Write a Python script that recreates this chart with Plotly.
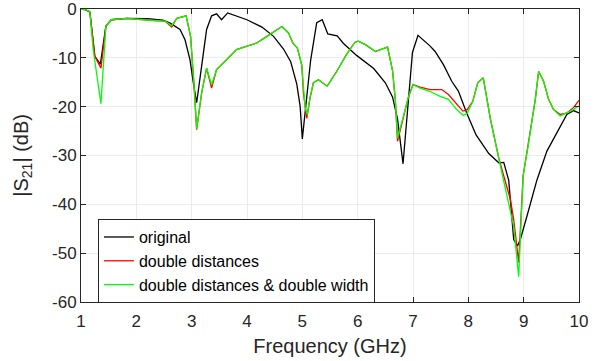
import plotly.graph_objects as go

# original
x_orig = [1.0, 1.07, 1.16, 1.25, 1.35, 1.45, 1.55, 1.83, 2.2, 2.48, 2.61, 2.79, 2.88, 2.97, 3.03, 3.09,
          3.18, 3.27, 3.36, 3.45, 3.54, 3.65, 4.0, 4.27, 4.48, 4.66, 4.79, 4.90, 4.96, 5.0, 5.15, 5.26,
          5.36, 5.46, 5.63, 5.74, 5.98, 6.29, 6.5, 6.63, 6.72, 6.82, 6.99, 7.09, 7.31, 7.40, 7.55, 7.70,
          7.82, 7.97, 8.14, 8.37, 8.55, 8.64, 8.73, 8.82, 8.89, 8.94, 9.06, 9.24, 9.42, 9.6, 9.78, 9.9, 10.0]
y_orig = [0, -0.1, -0.6, -9.7, -11.3, -3.5, -2.2, -1.9, -2.0, -2.3, -2.9, -4.2, -6.3, -10.4, -15.1, -19.2,
          -11.7, -4.2, -1.4, -1.0, -2.2, -0.8, -2.2, -3.7, -5.6, -8.2, -10.8, -15.4, -19.9, -26.6, -10.5, -2.8,
          -2.2, -5.1, -5.5, -7.0, -9.5, -12.2, -15.1, -18.0, -22.5, -31.7, -8.9, -5.4, -7.6, -8.7, -11.4, -14.8,
          -16.8, -21.3, -25.8, -29.6, -31.5, -31.4, -35.1, -47.2, -48.5, -47.2, -42.4, -35.0, -29.1, -25.4, -21.6, -20.8, -21.3]

# double distances
x_dd = [1.0, 1.07, 1.16, 1.25, 1.36, 1.45, 1.55, 1.83, 2.25, 2.52, 2.64, 2.73, 2.90, 2.98, 3.04, 3.09,
        3.18, 3.27, 3.36, 3.45, 3.63, 3.81, 4.0, 4.17, 4.36, 4.63, 4.75, 4.83, 4.91, 4.99, 5.02, 5.08,
        5.14, 5.20, 5.29, 5.45, 5.62, 5.8, 5.95, 6.01, 6.14, 6.32, 6.41, 6.54, 6.63, 6.68, 6.72, 6.83,
        6.92, 7.0, 7.13, 7.31, 7.52, 7.64, 7.79, 7.90, 7.98, 8.08, 8.17, 8.27, 8.40, 8.55, 8.64, 8.76,
        8.82, 8.91, 8.99, 9.09, 9.21, 9.27, 9.36, 9.45, 9.54, 9.66, 9.78, 9.9, 10.0]
y_dd = [0, -0.1, -0.6, -9.7, -12.1, -3.5, -2.2, -1.9, -2.3, -2.5, -3.7, -1.9, -1.4, -5.6, -15.1, -24.7,
        -17.2, -12.1, -16.2, -12.4, -10.4, -8.3, -7.6, -7.0, -5.6, -3.6, -4.9, -7.0, -8.0, -11.5, -17.2, -22.4,
        -18.2, -15.1, -14.5, -15.8, -12.8, -9.3, -6.8, -6.6, -7.3, -8.7, -8.3, -7.8, -12.6, -18.5, -27.1, -22.0,
        -17.9, -15.5, -16.0, -16.5, -16.5, -17.5, -19.6, -20.9, -20.6, -18.9, -15.1, -14.1, -22.6, -30.5, -34.2, -39.0,
        -43.1, -51.9, -34.2, -27.4, -18.5, -12.8, -14.8, -18.5, -20.6, -21.6, -21.3, -20.2, -18.7]

# double distances & double width
x_ddw = [1.0, 1.07, 1.16, 1.22, 1.36, 1.45, 1.55, 1.83, 2.25, 2.52, 2.64, 2.73, 2.90, 2.98, 3.04, 3.09,
         3.18, 3.27, 3.36, 3.45, 3.63, 3.81, 4.0, 4.17, 4.36, 4.63, 4.75, 4.83, 4.91, 4.99, 5.05, 5.09,
         5.14, 5.20, 5.29, 5.45, 5.62, 5.8, 5.95, 6.01, 6.14, 6.32, 6.41, 6.54, 6.63, 6.68, 6.72, 6.83,
         6.92, 7.0, 7.13, 7.31, 7.49, 7.64, 7.79, 7.91, 7.98, 8.08, 8.17, 8.27, 8.40, 8.58, 8.70,
         8.82, 8.91, 8.99, 9.09, 9.21, 9.27, 9.36, 9.45, 9.54, 9.66, 9.78, 9.9, 10.0]
y_ddw = [0, -0.1, -0.5, -8.3, -19.4, -3.5, -2.2, -1.9, -2.3, -2.5, -3.4, -1.9, -1.4, -5.6, -15.1, -24.5,
         -17.2, -12.1, -15.5, -12.4, -10.4, -8.3, -7.6, -7.0, -5.6, -3.6, -4.9, -7.0, -8.0, -11.5, -20.2, -21.6,
         -18.0, -15.1, -14.5, -15.8, -12.8, -9.3, -6.8, -6.6, -7.3, -8.7, -8.3, -7.8, -12.6, -18.5, -26.5, -22.0,
         -17.9, -15.5, -16.2, -16.9, -17.9, -18.5, -20.6, -21.8, -21.3, -18.9, -15.1, -14.1, -22.6, -32.2, -38.3,
         -44.5, -54.8, -34.2, -27.4, -18.5, -12.8, -14.8, -18.5, -20.6, -21.9, -21.3, -20.6, -19.8]

x_ticks = [1, 2, 3, 4, 5, 6, 7, 8, 9, 10]
x_ticklabels = ["1", "2", "3", "4", "5", "6", "7", "8", "9", "10"]
y_ticks = [0, -10, -20, -30, -40, -50, -60]
y_ticklabels = ["0", "-10", "-20", "-30", "-40", "-50", "-60"]

names = ["original", "double distances", "double distances & double width"]
colors = ["#000000", "#ff0000", "#00ff00"]

FONT = "Liberation Sans, Arial"

fig = go.Figure()
for xs, ys, name, c in zip([x_orig, x_dd, x_ddw], [y_orig, y_dd, y_ddw], names, colors):
    fig.add_trace(go.Scatter(x=xs, y=ys, mode="lines", name=name,
                             line=dict(color=c, width=1.3)))

axis_common = dict(showline=True, linecolor="#262626", linewidth=1, mirror="ticks",
                   ticks="inside", ticklen=5, tickcolor="#262626", showgrid=True,
                   gridcolor="#ebebeb", gridwidth=1, zeroline=False,
                   ticklabeloverflow="allow", automargin=False,
                   tickfont=dict(family=FONT, size=17, color="#262626"))

fig.update_layout(
    width=598, height=361,
    margin=dict(l=81, r=19, t=9, b=59),
    plot_bgcolor="white", paper_bgcolor="white",
    xaxis=dict(range=[1, 10], tickvals=x_ticks, ticktext=x_ticklabels,
               ticklabelstandoff=4,
               title=dict(text="Frequency (GHz)", standoff=8,
                          font=dict(family=FONT, size=20, color="#262626")),
               **axis_common),
    yaxis=dict(range=[-60, 0], tickvals=y_ticks, ticktext=y_ticklabels,
               **axis_common),
    legend=dict(x=0.034, y=0.283, xanchor="left", yanchor="top",
                bgcolor="white", bordercolor="#262626", borderwidth=1,
                font=dict(family=FONT, size=16, color="#000000"),
                tracegroupgap=0, itemwidth=30),
    showlegend=True,
)

# y-axis title placed as rotated text left of the tick labels
fig.add_annotation(text="|S<sub>21</sub>| (dB)", xref="paper", yref="paper",
                   x=-0.118, y=0.5, xanchor="center", yanchor="middle",
                   textangle=-90, showarrow=False,
                   font=dict(family=FONT, size=20, color="#262626"))

fig.write_html("out.html")
